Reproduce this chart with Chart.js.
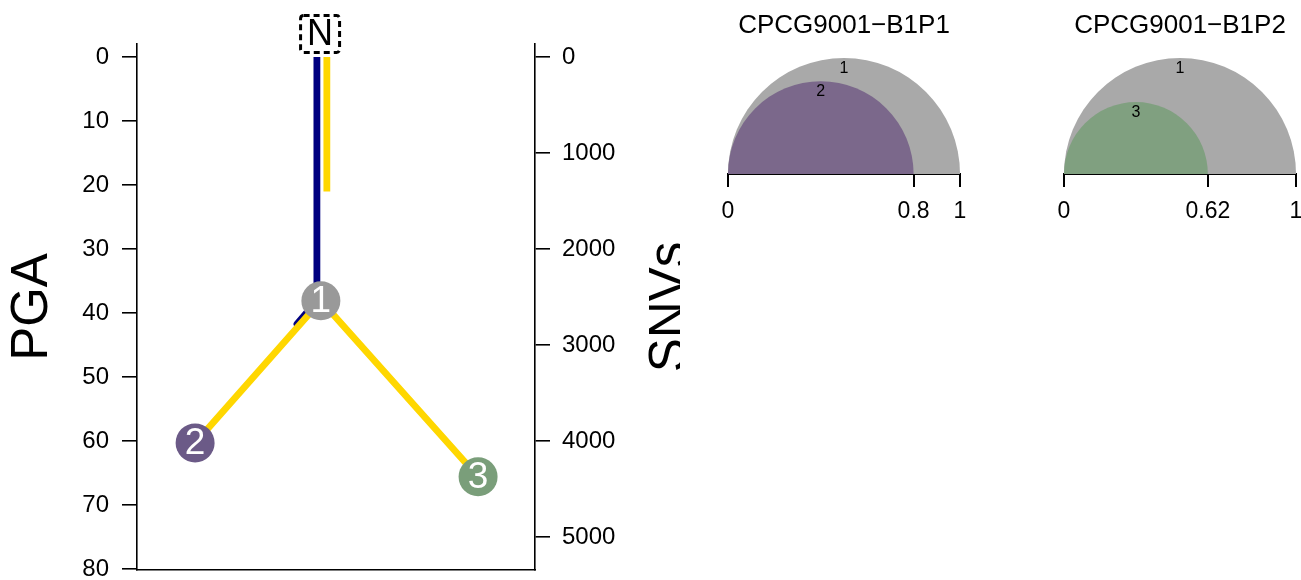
<!DOCTYPE html>
<html><head><meta charset="utf-8">
<script src="https://cdn.jsdelivr.net/npm/chart.js@4/dist/chart.umd.min.js"></script>
<style>
html,body{margin:0;padding:0;background:#fff;width:1301px;height:580px;overflow:hidden;}
canvas{position:absolute;top:0;}
#tree{left:0}
#p1{left:700px}
#p2{left:1036px}
</style></head><body>
<canvas id="tree" width="680" height="580"></canvas>
<canvas id="p1" width="300" height="240"></canvas>
<canvas id="p2" width="265" height="240"></canvas>
<script>
// ---------------- data ----------------
const PGA_TICKS = [0, 10, 20, 30, 40, 50, 60, 70, 80];
const SNV_TICKS = [0, 1000, 2000, 3000, 4000, 5000];

const NODE_LABELS = ['1', '2', '3'];
const NODE_X = [46.2, 14.6, 85.7];      // horizontal layout units (0-100)
const NODE_PGA = [38.1, 60.3, 65.6];
const ROOT_LABEL = 'N';
const ROOT_X = 46.0;

const BLUE_TRUNK_X = [45.2, 45.2];
const BLUE_TRUNK_PGA = [0, 38.1];
const BLUE_BRANCH_X = [45.2, 40.2];
const BLUE_BRANCH_PGA = [38.1, 41.7];
const YELLOW_TRUNK_X = [47.7, 47.7];
const YELLOW_TRUNK_SNV = [0, 1400];

const SAMPLES = ['CPCG9001\u2212B1P1', 'CPCG9001\u2212B1P2'];
const CLONES_P1 = ['1', '2'];
const CCF_P1 = [1, 0.8];
const TICKS_P1 = [0, 0.8, 1];
const CLONES_P2 = ['1', '3'];
const CCF_P2 = [1, 0.62];
const TICKS_P2 = [0, 0.62, 1];

// ---------------- styles ----------------
const FONT = "'Liberation Sans', Arial, Helvetica, sans-serif";
const NODE_COLORS = {'1': '#999999', '2': '#6B5A87', '3': '#7A9E7A'};
const SEMI_COLORS = {'1': '#A9A9A9', '2': '#7B688B', '3': '#80A080'};
const BLUE = '#000080';
const YELLOW = '#FFD700';

const pts = (xs, ys) => xs.map((x, i) => ({x: x, y: ys[i]}));

// ---------------- tree chart ----------------
const treePlugin = {
  id: 'treeDeco',
  afterDatasetsDraw(chart) {
    const ctx = chart.ctx;
    const meta = chart.getDatasetMeta(0);
    ctx.save();
    ctx.fillStyle = '#fff';
    ctx.font = '37px ' + FONT;
    ctx.textAlign = 'center';
    ctx.textBaseline = 'middle';
    meta.data.forEach((p, i) => ctx.fillText(NODE_LABELS[i], p.x, p.y + 1));
    // root label
    const xs = chart.scales.x, ys = chart.scales.y;
    const rx = xs.getPixelForValue(ROOT_X);
    const ry = ys.getPixelForValue(0) - 23;
    ctx.fillStyle = '#000';
    ctx.font = '36px ' + FONT;
    ctx.fillText(ROOT_LABEL, rx, ry + 1);
    ctx.setLineDash([6, 4]);
    ctx.lineWidth = 3;
    ctx.strokeStyle = '#000';
    ctx.beginPath();
    ctx.roundRect(rx - 19.5, ry - 18.5, 39, 37, 3);
    ctx.stroke();
    ctx.setLineDash([]);
    ctx.restore();
  },
  afterDraw(chart) {
    const ctx = chart.ctx;
    const a = chart.chartArea;
    const cy = (a.top + a.bottom) / 2;
    ctx.save();
    ctx.fillStyle = '#000';
    ctx.font = '51px ' + FONT;
    ctx.textAlign = 'center';
    ctx.textBaseline = 'middle';
    ctx.translate(chart.scales.y.left + 33, cy);
    ctx.rotate(-Math.PI / 2);
    ctx.fillText('PGA', 0, 0);
    ctx.restore();
    ctx.save();
    ctx.fillStyle = '#000';
    ctx.font = '51px ' + FONT;
    ctx.textAlign = 'center';
    ctx.textBaseline = 'alphabetic';
    ctx.translate(chart.scales.y2.left + 150, cy);
    ctx.rotate(-Math.PI / 2);
    ctx.fillText('SNVs', 0, 0);
    ctx.restore();
  }
};

const lineDs = (data, color, axis, cap, order) => ({
  data: data, yAxisID: axis, showLine: true, borderColor: color, borderWidth: 6.8,
  pointRadius: 0, pointHoverRadius: 0, borderCapStyle: cap, order: order, clip: false, fill: false
});

const yellowBranches = [];
for (let i = 1; i < NODE_LABELS.length; i++) {
  yellowBranches.push(lineDs(pts([NODE_X[0], NODE_X[i]], [NODE_PGA[0], NODE_PGA[i]]), YELLOW, 'y', 'round', 1));
}

const zeroPad = s => { s.paddingLeft = 0; s.paddingRight = 0; s.paddingTop = 0; s.paddingBottom = 0; };

new Chart(document.getElementById('tree'), {
  type: 'scatter',
  data: {
    datasets: [
      {data: pts(NODE_X, NODE_PGA), yAxisID: 'y', pointRadius: 19.5, pointHoverRadius: 19.5,
       backgroundColor: NODE_LABELS.map(l => NODE_COLORS[l]), borderWidth: 0, showLine: false, order: 0, clip: false},
      lineDs(pts(BLUE_TRUNK_X, BLUE_TRUNK_PGA), BLUE, 'y', 'butt', 2),
      lineDs(pts(BLUE_BRANCH_X, BLUE_BRANCH_PGA), BLUE, 'y', 'round', 2),
      lineDs(pts(YELLOW_TRUNK_X, YELLOW_TRUNK_SNV), YELLOW, 'y2', 'butt', 1),
      ...yellowBranches
    ]
  },
  options: {
    responsive: false, animation: false, devicePixelRatio: 1,
    layout: {autoPadding: false, padding: {top: 44, left: 0, right: 0, bottom: 0}},
    plugins: {legend: {display: false}, tooltip: {enabled: false}},
    events: [],
    scales: {
      x: {
        type: 'linear', min: 0, max: 100, position: 'bottom',
        ticks: {display: false}, grid: {display: false},
        border: {display: true, color: '#000', width: 1.6},
        afterFit: s => { s.height = 10; zeroPad(s); }
      },
      y: {
        type: 'linear', position: 'left', reverse: true, min: -2.03, max: 80.16,
        afterBuildTicks: s => { s.ticks = PGA_TICKS.map(v => ({value: v})); },
        ticks: {color: '#000', font: {size: 24, family: FONT}, padding: 13, callback: v => String(v)},
        grid: {display: true, drawOnChartArea: false, drawTicks: true, tickLength: 15, color: '#000', lineWidth: 1.6},
        border: {display: true, color: '#000', width: 1.6},
        afterFit: s => { s.width = 137; zeroPad(s); }
      },
      y2: {
        type: 'linear', position: 'right', reverse: true, min: -135.4, max: 5343.75,
        afterBuildTicks: s => { s.ticks = SNV_TICKS.map(v => ({value: v})); },
        ticks: {color: '#000', font: {size: 24, family: FONT}, padding: 12, callback: v => String(v)},
        grid: {display: true, drawOnChartArea: false, drawTicks: true, tickLength: 15, color: '#000', lineWidth: 1.6},
        border: {display: true, color: '#000', width: 1.6},
        afterFit: s => { s.width = 145; zeroPad(s); }
      }
    }
  },
  plugins: [treePlugin]
});

// ---------------- CCF semicircle panels ----------------
function makePanel(id, title, clones, ccf, ticks, padRight) {
  const semi = {
    id: 'semi',
    beforeDatasetsDraw(chart) {
      const ctx = chart.ctx;
      const xs = chart.scales.x, ys = chart.scales.y;
      const base = ys.getPixelForValue(0);
      const x0 = xs.getPixelForValue(0);
      const geo = ccf.map(v => {
        const x1 = xs.getPixelForValue(v);
        return {cx: (x0 + x1) / 2, r: (x1 - x0) / 2};
      });
      ctx.save();
      geo.forEach((g, i) => {
        ctx.beginPath();
        ctx.moveTo(g.cx - g.r, base);
        ctx.arc(g.cx, base, g.r, Math.PI, 2 * Math.PI);
        ctx.closePath();
        ctx.fillStyle = SEMI_COLORS[clones[i]];
        ctx.fill();
      });
      ctx.fillStyle = '#000';
      ctx.font = '16px ' + FONT;
      ctx.textAlign = 'center';
      ctx.textBaseline = 'middle';
      geo.forEach((g, i) => ctx.fillText(clones[i], g.cx, base - g.r + 10.5));
      ctx.restore();
    }
  };
  new Chart(document.getElementById(id), {
    type: 'scatter',
    data: {datasets: [{data: []}]},
    options: {
      responsive: false, animation: false, devicePixelRatio: 1, events: [],
      layout: {autoPadding: false, padding: {top: 0, left: 28, right: padRight, bottom: 0}},
      plugins: {
        legend: {display: false}, tooltip: {enabled: false},
        title: {display: true, text: title, color: '#000', font: {size: 26, family: FONT, weight: 'normal'},
                padding: {top: 10, bottom: 16}}
      },
      scales: {
        x: {
          type: 'linear', min: 0, max: 1, position: 'bottom',
          afterBuildTicks: s => { s.ticks = ticks.map(v => ({value: v})); },
          ticks: {color: '#000', font: {size: 23, family: FONT}, padding: 11, maxRotation: 0, autoSkip: false,
                  callback: v => String(v)},
          grid: {display: true, drawOnChartArea: false, drawTicks: true, tickLength: 13, color: '#000', lineWidth: 2},
          border: {display: true, color: '#000', width: 2},
          afterFit: s => { s.height = 66; zeroPad(s); }
        },
        y: {type: 'linear', min: 0, max: 1, display: false}
      }
    },
    plugins: [semi]
  });
}
makePanel('p1', SAMPLES[0], CLONES_P1, CCF_P1, TICKS_P1, 40);
makePanel('p2', SAMPLES[1], CLONES_P2, CCF_P2, TICKS_P2, 5);
</script>
</body></html>
